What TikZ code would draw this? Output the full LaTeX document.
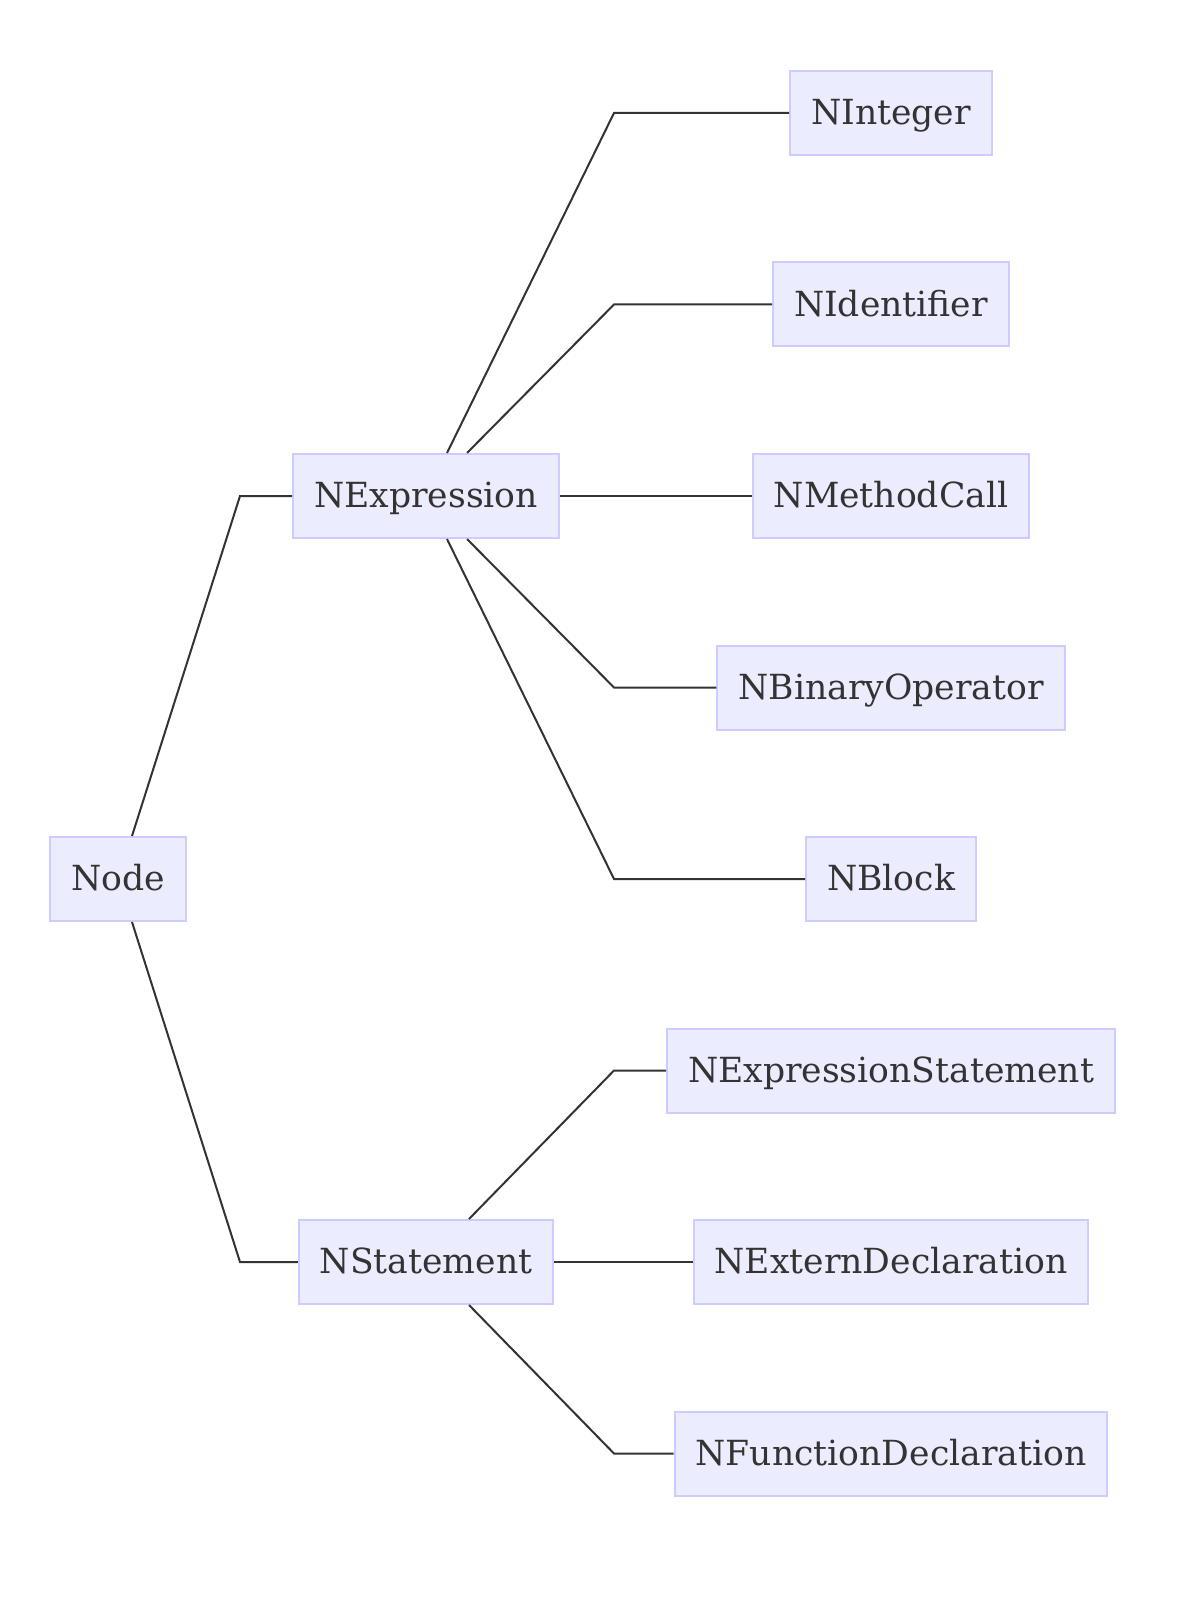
\documentclass[tikz,border=0pt]{standalone}
\usepackage{fontspec}
\setmainfont{DejaVu Serif}
\usepackage{xcolor}
\usepackage{tikz}
\usetikzlibrary{positioning, calc}
\definecolor{boxfill}{HTML}{ECECFF}
\definecolor{boxline}{HTML}{CCCCFF}
\definecolor{inkgrey}{HTML}{333333}
\tikzset{
  cls/.style={
    rectangle,
    draw=boxline,
    fill=boxfill,
    line width=1pt,
    minimum height=42pt,
    inner xsep=10.5pt,
    text height=14.8pt,
    text depth=3.1pt,
    text=inkgrey,
    font=\fontsize{17.3pt}{21pt}\selectfont
  },
  link/.style={
    line width=1pt,
    draw=inkgrey
  }
}
\begin{document}
\begin{tikzpicture}[x=0.5pt, y=-0.5pt, node distance=95.75pt]
  \useasboundingbox (0,0) rectangle (1200,1609);

  % Root and the two groups
  \node (root) [cls] at (118,879) {Node};
  \node (nexpr) [cls] at (426,496) {NExpression};
  \node (nstmt) [cls] at (426,1262) {NStatement};

  % Leaf classes
  \node (nint) [cls] at (891,113) {NInteger};
  \node (nident) [cls, below of=nint] {NIdentifier};
  \node (ncall) [cls, below of=nident] {NMethodCall};
  \node (nbinop) [cls, below of=ncall] {NBinaryOperator};
  \node (nblock) [cls, below of=nbinop] {NBlock};
  \node (nexprstmt) [cls, below of=nblock] {NExpressionStatement};
  \node (nextern) [cls, below of=nexprstmt] {NExternDeclaration};
  \node (nfunc) [cls, below of=nextern] {NFunctionDeclaration};

  % Bend columns
  \coordinate (colA) at (240,0);
  \coordinate (colB) at (614,0);

  % Root links
  \draw[link] ([xshift=7pt]root.north) -- (nexpr.west -| colA) -- (nexpr.west);
  \draw[link] ([xshift=7pt]root.south) -- (nstmt.west -| colA) -- (nstmt.west);

  % Expression links
  \draw[link] ([xshift=10.5pt]nexpr.north) -- (nint.west -| colB) -- (nint.west);
  \draw[link] ([xshift=20.5pt]nexpr.north) -- (nident.west -| colB) -- (nident.west);
  \draw[link] (nexpr.east) -- (ncall.west);
  \draw[link] ([xshift=20.5pt]nexpr.south) -- (nbinop.west -| colB) -- (nbinop.west);
  \draw[link] ([xshift=10.5pt]nexpr.south) -- (nblock.west -| colB) -- (nblock.west);

  % Statement links
  \draw[link] ([xshift=21.5pt]nstmt.north) -- (nexprstmt.west -| colB) -- (nexprstmt.west);
  \draw[link] (nstmt.east) -- (nextern.west);
  \draw[link] ([xshift=21.5pt]nstmt.south) -- (nfunc.west -| colB) -- (nfunc.west);

\end{tikzpicture}
\end{document}
